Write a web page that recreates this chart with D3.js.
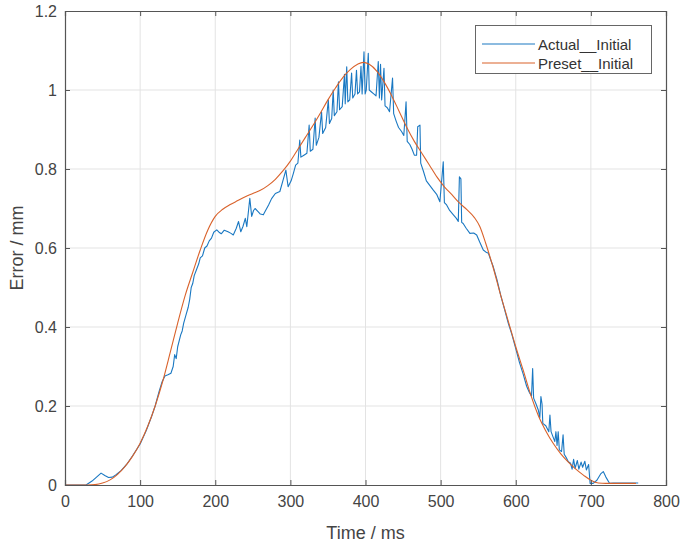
<!DOCTYPE html>
<html><head><meta charset="utf-8">
<script src="https://cdn.jsdelivr.net/npm/d3@7"></script>
<style>body{margin:0;background:#fff;}svg text{font-family:"Liberation Sans",Arial,sans-serif;}</style>
</head><body><svg id="c" width="685" height="549"></svg>
<script>
const xTicks=[0,100,200,300,400,500,600,700,800];
const yTicks=[0,0.2,0.4,0.6,0.8,1,1.2];
const seriesNames=["Actual__Initial","Preset__Initial"];
const presetT=[0,30,40,50,60,70,80,90,100,110,120,130,140,150,160,170,180,190,200,210,220,230,240,250,260,270,280,290,300,310,320,330,340,350,360,370,380,390,397,405,415,425,435,445,455,465,475,485,495,505,515,525,535,545,552,560,570,580,590,600,610,620,630,640,650,660,670,680,690,700,710,720,760];
const presetV=[0,0,0.001,0.005,0.013,0.027,0.047,0.073,0.106,0.148,0.2,0.262,0.335,0.41,0.48,0.538,0.595,0.645,0.68,0.698,0.71,0.72,0.73,0.738,0.746,0.758,0.774,0.795,0.82,0.85,0.88,0.91,0.942,0.975,1.005,1.032,1.052,1.066,1.07,1.065,1.048,1.02,0.985,0.945,0.905,0.87,0.84,0.81,0.78,0.755,0.735,0.714,0.697,0.677,0.655,0.612,0.55,0.48,0.415,0.35,0.29,0.228,0.176,0.137,0.105,0.079,0.058,0.04,0.025,0.012,0.005,0.004,0.004];
const actualT=[0,28,36,42,48,53,58,63,68,75,82,90,100,108,115,120,125,129,133,137,141,144,146,148,150,154,156,158,161,164,166,168,170,172,175,178,180,183,186,189,192,195,198,202,205,208,212,217,221,224,228,231,234,237,240,242,244,246,248.5,251,253,257,260,264,267,271,275,280,286,290,294,297,301,304,307,310,312.5,314,318,322,325,326.5,330,333,334.5,338,341.5,343,347,350.5,352,355,357,358.5,362,364,365.5,369,372,373,375,376.5,379,381.5,383,386,388,389.5,392,394,395.5,398,399.5,401,403.7,405,408,411,414,417,418.5,420,421.5,424.6,426,429,432,436,437.5,441,444,448,451,454,455.5,459,462,465,468,469.5,472.5,473.5,477,481,485,490,495,499,503.5,505,508,512,517,521,523.5,525,527,528,530,534,539,544,548,552,556.8,560,563.5,567,570,575,580,585,590,595,600,605,610,614.5,618,621,622.5,623.8,627,630,632,633.5,635,636,640,644,645.5,647,650,652,653.5,655,656.5,658,661,663,664.5,667,670,673,675,677,679,682,684,687,689,692,694,697,699,703,708,713,716.5,720,725,730,763];
const actualV=[0,0,0.01,0.02,0.03,0.024,0.019,0.02,0.026,0.037,0.052,0.074,0.104,0.137,0.172,0.2,0.235,0.26,0.276,0.279,0.283,0.3,0.33,0.32,0.35,0.38,0.39,0.41,0.43,0.45,0.47,0.5,0.51,0.53,0.545,0.56,0.575,0.58,0.6,0.605,0.618,0.625,0.64,0.646,0.64,0.636,0.645,0.641,0.637,0.633,0.65,0.667,0.641,0.655,0.675,0.654,0.69,0.726,0.68,0.695,0.7,0.692,0.686,0.684,0.695,0.709,0.725,0.738,0.743,0.77,0.797,0.755,0.77,0.789,0.81,0.815,0.873,0.83,0.835,0.84,0.911,0.845,0.85,0.929,0.86,0.88,0.945,0.89,0.905,0.975,0.915,0.928,1.0,0.935,0.945,1.021,0.95,0.958,1.04,0.965,1.059,0.97,0.975,1.043,0.98,0.99,1.05,0.99,0.995,1.06,0.99,1.097,0.99,1.0,1.093,1.0,0.995,0.99,0.985,1.072,0.98,1.065,0.975,1.055,0.96,0.955,0.945,1.03,0.94,0.92,0.905,0.895,0.885,0.97,0.87,0.862,0.85,0.835,0.835,0.907,0.911,0.815,0.795,0.77,0.76,0.747,0.735,0.717,0.818,0.715,0.709,0.695,0.684,0.675,0.667,0.78,0.775,0.665,0.662,0.65,0.637,0.638,0.633,0.615,0.595,0.59,0.587,0.568,0.553,0.52,0.48,0.445,0.41,0.38,0.345,0.31,0.28,0.25,0.235,0.225,0.295,0.22,0.205,0.19,0.17,0.224,0.205,0.156,0.15,0.135,0.177,0.135,0.12,0.11,0.135,0.1,0.135,0.089,0.085,0.127,0.078,0.07,0.059,0.055,0.04,0.065,0.042,0.062,0.04,0.058,0.045,0.06,0.038,0.052,0.004,0.004,0.012,0.028,0.034,0.02,0.004,0.005,0.005];

const svg=d3.select("#c");
const L=65,R=666,T=11,B=485;
const x=d3.scaleLinear().domain([0,800]).range([L,R]);
const y=d3.scaleLinear().domain([0,1.2]).range([B,T]);
const axisCol="#555", textCol="#444", gridCol="#e3e3e3";

// grid
svg.append("g").selectAll("line").data(xTicks.slice(1,-1)).join("line")
  .attr("x1",d=>x(d)).attr("x2",d=>x(d)).attr("y1",T).attr("y2",B).attr("stroke",gridCol).attr("stroke-width",1);
svg.append("g").selectAll("line").data(yTicks.slice(1,-1)).join("line")
  .attr("y1",d=>y(d)).attr("y2",d=>y(d)).attr("x1",L).attr("x2",R).attr("stroke",gridCol).attr("stroke-width",1);

// lines
const line=d3.line().x(d=>x(d[0])).y(d=>y(d[1]));
const smooth=d3.line().x(d=>x(d[0])).y(d=>y(d[1])).curve(d3.curveMonotoneX);
const preset=presetT.map((t,i)=>[t,presetV[i]]);
const actual=actualT.map((t,i)=>[t,actualV[i]]);
const colors=["#1a78c2","#d9622b"];
svg.append("path").datum(actual).attr("d",line).attr("fill","none").attr("stroke",colors[0]).attr("stroke-width",1.1).attr("stroke-linejoin","round");
svg.append("path").datum(preset).attr("d",smooth).attr("fill","none").attr("stroke",colors[1]).attr("stroke-width",1.1);

// axes
const fs=16;
const ax=svg.append("g").attr("transform",`translate(0,${B})`).call(d3.axisBottom(x).tickValues(xTicks).tickSize(-5).tickPadding(11).tickFormat(d3.format("d")));
const ay=svg.append("g").attr("transform",`translate(${L},0)`).call(d3.axisLeft(y).tickValues(yTicks).tickSize(-5).tickPadding(8).tickFormat(d=>d3.format("")(d)));
const axTop=svg.append("g").attr("transform",`translate(0,${T})`).call(d3.axisTop(x).tickValues(xTicks).tickSize(-5).tickFormat(""));
const ayR=svg.append("g").attr("transform",`translate(${R},0)`).call(d3.axisRight(y).tickValues(yTicks).tickSize(-5).tickFormat(""));
[ax,ay,axTop,ayR].forEach(g=>{
  g.selectAll("path").attr("stroke",axisCol).attr("stroke-width",1.2);
  g.selectAll("line").attr("stroke",axisCol);
  g.selectAll("text").attr("fill",textCol).attr("font-size",fs).attr("font-family","Liberation Sans, Arial, sans-serif");
});

// axis labels
svg.append("text").attr("x",(L+R)/2).attr("y",539).attr("text-anchor","middle").attr("font-size",18).attr("fill",textCol).text("Time / ms");
svg.append("text").attr("transform",`translate(23,${(T+B)/2}) rotate(-90)`).attr("text-anchor","middle").attr("font-size",18).attr("fill",textCol).text("Error / mm");

// legend
const lg=svg.append("g");
lg.append("rect").attr("x",475.5).attr("y",25.5).attr("width",176).attr("height",48).attr("fill","#fff").attr("stroke","#666").attr("stroke-width",1);
seriesNames.forEach((n,i)=>{
  const yy=44+i*19;
  lg.append("line").attr("x1",482).attr("x2",535).attr("y1",yy).attr("y2",yy).attr("stroke",colors[i]).attr("stroke-width",1.2);
  lg.append("text").attr("x",538).attr("y",yy+5.5).attr("font-size",15).attr("fill","#333").text(n);
});
</script></body></html>
